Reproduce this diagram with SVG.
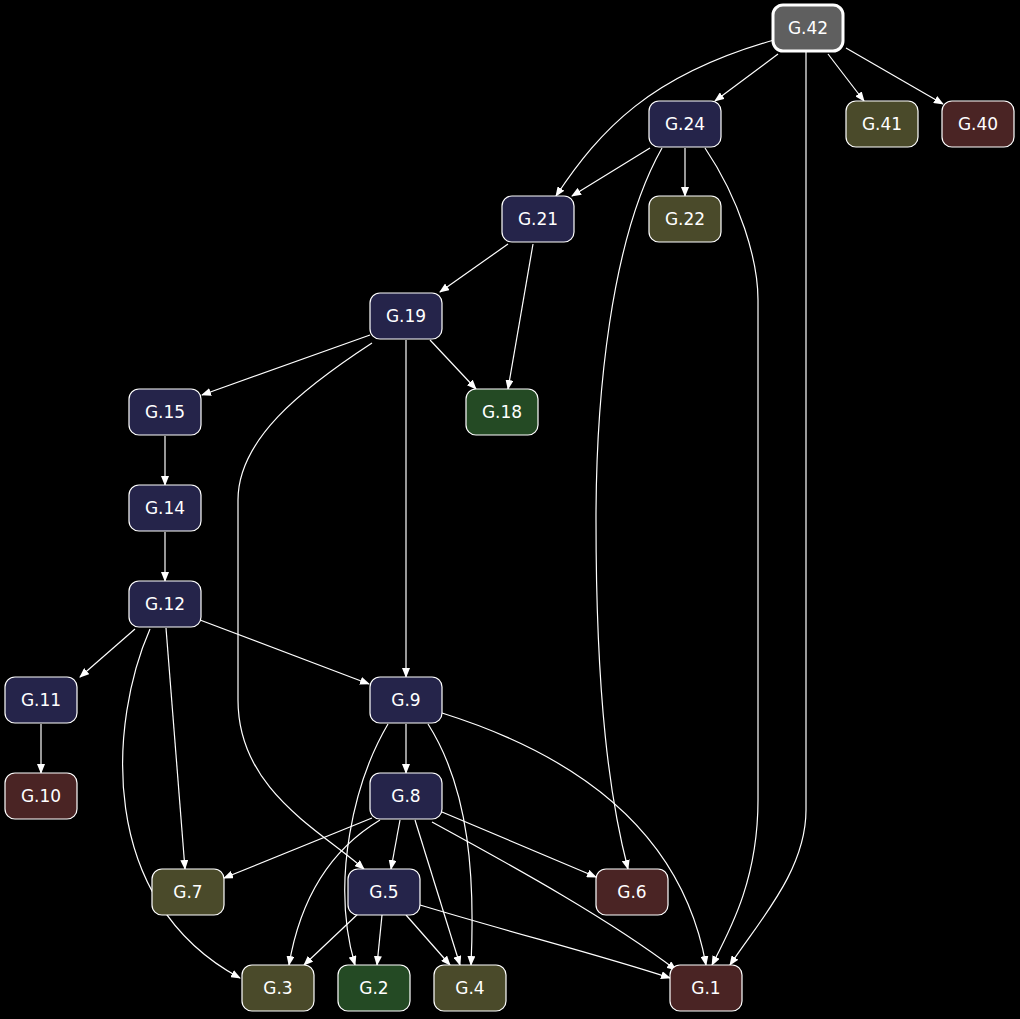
<svg xmlns="http://www.w3.org/2000/svg" width="1020" height="1019" viewBox="0 0 1020 1019">
<style>
.n rect{stroke:#fff;stroke-width:1.2}
.n text{fill:#fff;font-family:"DejaVu Sans",sans-serif;font-size:17px;text-anchor:middle;dominant-baseline:central}
.b{fill:#25244a}.o{fill:#4a4a2a}.r{fill:#4a2424}.g{fill:#244a24}
#edges path{fill:none;stroke:#fff;stroke-width:1.2;marker-end:url(#a)}
</style>
<defs><marker id="a" markerWidth="10" markerHeight="8" refX="9" refY="4" orient="auto" markerUnits="userSpaceOnUse"><path d="M0,0L10,4L0,8z" fill="#fff"/></marker></defs>
<rect width="1020" height="1019" fill="#000"/>
<g id="edges">
<path d="M778,54L715,101"/>
<path d="M774,40C650,75 600,130 556,196"/>
<path d="M806,52L806,810C806,870 760,920 730,965"/>
<path d="M828,54L864,101"/>
<path d="M846,48L943,104"/>
<path d="M650,148L572,196"/>
<path d="M685,148L685,196"/>
<path d="M662,148C610,240 596,400 596,520C596,700 610,800 628,869"/>
<path d="M705,148C740,200 758,260 758,300L758,800C758,880 730,930 712,965"/>
<path d="M508,244L440,292"/>
<path d="M533,244L508,389"/>
<path d="M370,335L202,395"/>
<path d="M430,340L476,389"/>
<path d="M406,340L406,677"/>
<path d="M372,343C300,390 238,440 238,500L238,700C238,790 320,830 364,869"/>
<path d="M165,436L165,485"/>
<path d="M165,532L165,581"/>
<path d="M135,629L80,677"/>
<path d="M200,620L369,684"/>
<path d="M166,628L185,869"/>
<path d="M150,629C110,720 95,900 240,978"/>
<path d="M41,724L41,773"/>
<path d="M406,724L406,773"/>
<path d="M388,724C355,780 330,880 355,965"/>
<path d="M428,724C470,790 475,880 471,965"/>
<path d="M442,713C560,750 680,820 706,965"/>
<path d="M372,818L224,878"/>
<path d="M380,820C330,850 300,900 289,965"/>
<path d="M400,820L391,869"/>
<path d="M415,820L460,965"/>
<path d="M442,812L596,877"/>
<path d="M432,822C520,870 610,920 676,970"/>
<path d="M360,912L304,965"/>
<path d="M382,915L377,965"/>
<path d="M406,915L450,965"/>
<path d="M420,905C520,935 600,955 670,978"/>
</g>
<g id="G42" class="n"><rect x="773" y="5" width="70" height="46" rx="10" fill="#5f5f5f" style="stroke-width:3"/><text x="808" y="28">G.42</text></g>
<g id="G24" class="n"><rect class="b" x="649" y="101" width="72" height="46" rx="10"/><text x="685" y="124">G.24</text></g>
<g id="G41" class="n"><rect class="o" x="846" y="101" width="72" height="46" rx="10"/><text x="882" y="124">G.41</text></g>
<g id="G40" class="n"><rect class="r" x="942" y="101" width="72" height="46" rx="10"/><text x="978" y="124">G.40</text></g>
<g id="G21" class="n"><rect class="b" x="502" y="196" width="72" height="46" rx="10"/><text x="538" y="219">G.21</text></g>
<g id="G22" class="n"><rect class="o" x="649" y="196" width="72" height="46" rx="10"/><text x="685" y="219">G.22</text></g>
<g id="G19" class="n"><rect class="b" x="370" y="293" width="72" height="46" rx="10"/><text x="406" y="316">G.19</text></g>
<g id="G15" class="n"><rect class="b" x="129" y="389" width="72" height="46" rx="10"/><text x="165" y="412">G.15</text></g>
<g id="G18" class="n"><rect class="g" x="466" y="389" width="72" height="46" rx="10"/><text x="502" y="412">G.18</text></g>
<g id="G14" class="n"><rect class="b" x="129" y="485" width="72" height="46" rx="10"/><text x="165" y="508">G.14</text></g>
<g id="G12" class="n"><rect class="b" x="129" y="581" width="72" height="46" rx="10"/><text x="165" y="604">G.12</text></g>
<g id="G11" class="n"><rect class="b" x="5" y="677" width="72" height="46" rx="10"/><text x="41" y="700">G.11</text></g>
<g id="G9" class="n"><rect class="b" x="370" y="677" width="72" height="46" rx="10"/><text x="406" y="700">G.9</text></g>
<g id="G10" class="n"><rect class="r" x="5" y="773" width="72" height="46" rx="10"/><text x="41" y="796">G.10</text></g>
<g id="G8" class="n"><rect class="b" x="370" y="773" width="72" height="46" rx="10"/><text x="406" y="796">G.8</text></g>
<g id="G7" class="n"><rect class="o" x="152" y="869" width="72" height="46" rx="10"/><text x="188" y="892">G.7</text></g>
<g id="G5" class="n"><rect class="b" x="348" y="869" width="72" height="46" rx="10"/><text x="384" y="892">G.5</text></g>
<g id="G6" class="n"><rect class="r" x="596" y="869" width="72" height="46" rx="10"/><text x="632" y="892">G.6</text></g>
<g id="G3" class="n"><rect class="o" x="242" y="965" width="72" height="46" rx="10"/><text x="278" y="988">G.3</text></g>
<g id="G2" class="n"><rect class="g" x="338" y="965" width="72" height="46" rx="10"/><text x="374" y="988">G.2</text></g>
<g id="G4" class="n"><rect class="o" x="434" y="965" width="72" height="46" rx="10"/><text x="470" y="988">G.4</text></g>
<g id="G1" class="n"><rect class="r" x="670" y="965" width="72" height="46" rx="10"/><text x="706" y="988">G.1</text></g>
</svg>
